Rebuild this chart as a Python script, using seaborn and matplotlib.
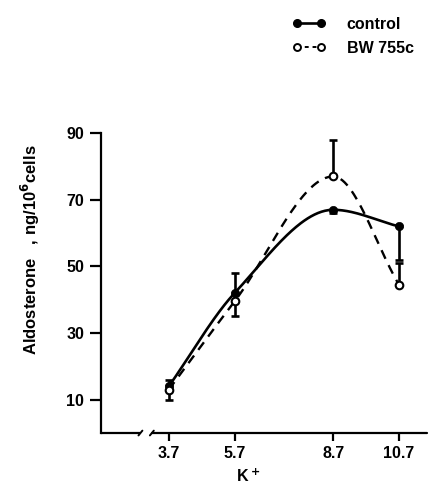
import numpy as np
import pandas as pd
import matplotlib
matplotlib.use("Agg")
import matplotlib.pyplot as plt
import seaborn as sns
from matplotlib.lines import Line2D

# ---- data ----
k_conc = [3.7, 5.7, 8.7, 10.7]
control = [14.0, 42.0, 67.0, 62.0]
control_err = [2.0, 6.0, 1.0, 10.0]
control_dir = [1, 1, -1, -1]          # +1 = bar drawn upward, -1 = downward
bw755c = [13.0, 39.5, 77.0, 44.5]
bw755c_err = [3.0, 4.5, 11.0, 6.5]
bw755c_dir = [-1, -1, 1, 1]
x_ticks = [3.7, 5.7, 8.7, 10.7]
x_ticklabels = ["3.7", "5.7", "8.7", "10.7"]
y_ticks = [10, 30, 50, 70, 90]


def pchip(x, y, xs):
    x = np.asarray(x, float); y = np.asarray(y, float)
    h = np.diff(x); d = np.diff(y) / h
    n = len(x); m = np.zeros(n)
    for i in range(1, n - 1):
        if d[i - 1] * d[i] <= 0:
            m[i] = 0
        else:
            w1 = 2 * h[i] + h[i - 1]; w2 = h[i] + 2 * h[i - 1]
            m[i] = (w1 + w2) / (w1 / d[i - 1] + w2 / d[i])
    m[0] = d[0]; m[-1] = d[-1]
    out = np.empty_like(xs)
    for j, xv in enumerate(xs):
        i = min(np.searchsorted(x, xv, side="right") - 1, n - 2)
        t = (xv - x[i]) / h[i]
        h00 = 2 * t**3 - 3 * t**2 + 1; h10 = t**3 - 2 * t**2 + t
        h01 = -2 * t**3 + 3 * t**2; h11 = t**3 - t**2
        out[j] = h00 * y[i] + h10 * h[i] * m[i] + h01 * y[i + 1] + h11 * h[i] * m[i + 1]
    return out


sns.set_theme(style="white")
plt.rcParams["font.family"] = ["Liberation Sans", "DejaVu Sans"]
plt.rcParams["font.weight"] = "bold"
plt.rcParams["text.color"] = "black"
plt.rcParams["axes.labelcolor"] = "black"
plt.rcParams["xtick.color"] = "black"
plt.rcParams["ytick.color"] = "black"

fig = plt.figure(figsize=(4.29, 4.86), dpi=100)
ax = fig.add_axes([0.2354, 0.109, 0.76, 0.617])

xs = np.linspace(k_conc[0], k_conc[-1], 200)
curves = pd.DataFrame({
    "K": np.concatenate([xs, xs]),
    "val": np.concatenate([pchip(k_conc, control, xs), pchip(k_conc, bw755c, xs)]),
    "grp": ["control"] * len(xs) + ["BW 755c"] * len(xs),
})
sns.lineplot(data=curves[curves.grp == "control"], x="K", y="val", ax=ax,
             color="black", lw=1.9, legend=False)
sns.lineplot(data=curves[curves.grp == "BW 755c"], x="K", y="val", ax=ax,
             color="black", lw=1.7, legend=False, linestyle=(0, (4, 3)))

# error bars (one-sided)
for ys, es, ds in [(control, control_err, control_dir), (bw755c, bw755c_err, bw755c_dir)]:
    lower = [e if d < 0 else 0 for e, d in zip(es, ds)]
    upper = [e if d > 0 else 0 for e, d in zip(es, ds)]
    ax.errorbar(k_conc, ys, yerr=[lower, upper], fmt="none", ecolor="black",
                elinewidth=1.9, capsize=3, capthick=1.9, zorder=3)

pts = pd.DataFrame({"K": k_conc + k_conc, "val": control + bw755c,
                    "grp": ["control"] * 4 + ["BW 755c"] * 4})
sns.scatterplot(data=pts[pts.grp == "control"], x="K", y="val", ax=ax, s=36,
                color="black", edgecolor="black", zorder=4, legend=False)
sns.scatterplot(data=pts[pts.grp == "BW 755c"], x="K", y="val", ax=ax, s=30,
                facecolor="white", edgecolor="black", linewidth=1.5, zorder=5, legend=False)

ax.set_xlim(1.64, 11.55)
ax.set_ylim(0, 90)
ax.set_xticks(x_ticks)
ax.set_xticklabels(x_ticklabels, fontsize=11.5, fontweight="bold")
ax.set_yticks(y_ticks)
ax.set_yticklabels([str(v) for v in y_ticks], fontsize=11.5, fontweight="bold")
ax.tick_params(axis="y", direction="out", length=8, width=1.6, pad=4)
ax.tick_params(axis="x", direction="out", length=6, width=1.6, pad=3)
ax.tick_params(left=True, bottom=True)

for s in ["top", "right", "bottom"]:
    ax.spines[s].set_visible(False)
ax.spines["left"].set_color("black")
ax.spines["left"].set_linewidth(1.6)

# broken x axis
ax.plot([0, 0.12], [0, 0], transform=ax.transAxes, color="black", lw=1.6, clip_on=False)
ax.plot([0.155, 1.0], [0, 0], transform=ax.transAxes, color="black", lw=1.6, clip_on=False)
ax.plot([0.115, 0.127], [-0.008, 0.008], transform=ax.transAxes, color="black", lw=1.4, clip_on=False)
ax.plot([0.150, 0.162], [-0.008, 0.008], transform=ax.transAxes, color="black", lw=1.4, clip_on=False)

ax.set_xlabel("K$^+$", fontsize=11.5, fontweight="bold")
ax.xaxis.set_label_coords(0.45, -0.115)
ax.set_ylabel("Aldosterone   , ng/10$^6$cells", fontsize=12, fontweight="bold")
ax.yaxis.set_label_coords(-0.18, 0.61)

handles = [
    Line2D([0], [0], color="black", lw=1.9, marker="o", ms=5.5,
           markerfacecolor="black", markeredgecolor="black"),
    Line2D([0], [0], color="black", lw=1.4, linestyle=(0, (2, 2)), marker="o", ms=5,
           markerfacecolor="white", markeredgecolor="black", markeredgewidth=1.4),
]
fig.legend(handles, ["control", "BW 755c"], loc="upper left",
           bbox_to_anchor=(0.648, 0.995), frameon=False, numpoints=2,
           handlelength=2.1, handletextpad=1.3, labelspacing=0.55,
           prop={"size": 11.5, "weight": "bold"})

fig.savefig("out.png", dpi=100)
